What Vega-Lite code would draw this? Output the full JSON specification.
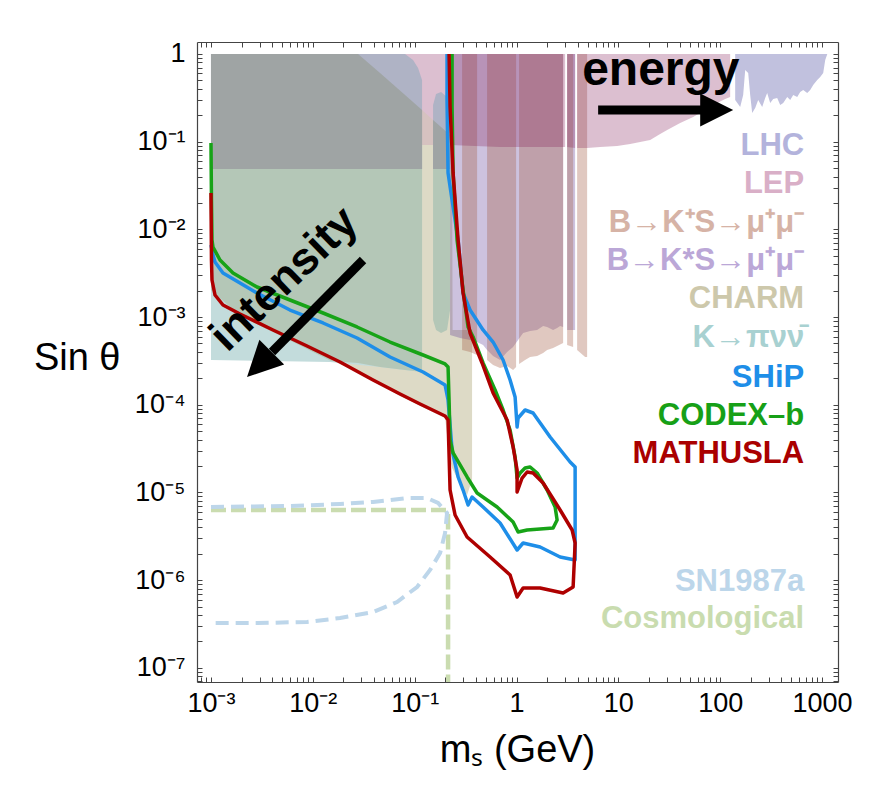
{
"$schema": "https://vega.github.io/schema/vega-lite/v6.json",
"width": 641, "height": 640,
"autosize": {"type": "none"},
"padding": {"left": 197, "top": 42, "right": 42, "bottom": 117},
"background": "white",
"config": {"view": {"stroke": null}},
"datasets": {
"charm": [
{"m":0.001,"s":0.002037,"s2":1},{"m":0.001927,"s":0.001029,"s2":1},{"m":0.004064,"s":0.0006761,"s2":1},{"m":0.0185,"s":0.0002918,"s2":1},{"m":0.0278,"s":0.0002364,"s2":1},{"m":0.07187,"s":0.0001259,"s2":0.3785},{"m":0.1989,"s":0.00007069,"s2":0.1359},{"m":0.2227,"s":0.00002347,"s2":0.1192},{"m":0.233,"s":0.00001902,"s2":0.1131},{"m":0.2357,"s":0.00001852,"s2":0.0007125},{"m":0.2669,"s":0.00001388,"s2":0.0007125},{"m":0.3271,"s":0.000009361,"s2":0.0007125},{"m":0.3662,"s":0.00001388,"s2":0.0007125}],
"teal": [
{"m":0.001,"s":0.0003241,"s2":1},{"m":0.01475,"s":0.0003075,"s2":1},{"m":0.04571,"s":0.0002696,"s2":1},{"m":0.08048,"s":0.0002492,"s2":1},{"m":0.09643,"s":0.0002428,"s2":0.8543},{"m":0.108,"s":0.0002428,"s2":0.6925},{"m":0.1182,"s":0.0002364,"s2":0.5052}],
"lepleft": [{"m":0.08048,"s":0.09169,"s2":1},{"m":0.2227,"s":0.09169,"s2":1}],
"pinkbeige": [{"m":0.1182,"s":0.09169,"s2":0.2298},{"m":0.1516,"s":0.09169,"s2":0.1768}],
"graygreen": [
{"part":"a","m":0.001,"s":0.002037,"s2":1},{"part":"a","m":0.001927,"s":0.001029,"s2":1},{"part":"a","m":0.004064,"s":0.0006761,"s2":1},{"part":"a","m":0.0151,"s":0.0003157,"s2":1},{"part":"a","m":0.0278,"s":0.0002995,"s2":1},{"part":"a","m":0.04571,"s":0.0002696,"s2":0.6071},{"part":"a","m":0.08048,"s":0.0002492,"s2":0.3406},{"part":"a","m":0.1182,"s":0.0002364,"s2":0.2298},
{"part":"b","m":0.1516,"s":0.0009264,"s2":0.1768},{"part":"b","m":0.1622,"s":0.0007125,"s2":0.1633},{"part":"b","m":0.1816,"s":0.0006585,"s2":0.1471},{"part":"b","m":0.208,"s":0.0007125,"s2":0.129},{"part":"b","m":0.2227,"s":0.001204,"s2":0.1192}],
"bluegray": [
{"part":"a","m":0.001,"s":0.0488,"s2":1},{"part":"a","m":0.08048,"s":0.0488,"s2":1},{"part":"a","m":0.09643,"s":0.0488,"s2":0.8543},{"part":"a","m":0.108,"s":0.0488,"s2":0.6925},{"part":"a","m":0.1182,"s":0.0488,"s2":0.5052},
{"part":"b","m":0.1516,"s":0.0488,"s2":0.2621},{"part":"b","m":0.1622,"s":0.0488,"s2":0.3498},{"part":"b","m":0.1816,"s":0.0488,"s2":0.3687},{"part":"b","m":0.208,"s":0.0488,"s2":0.3233},{"part":"b","m":0.2227,"s":0.0488,"s2":0.2621}],
"darkgray": [
{"part":"a","m":0.001,"s":0.0488,"s2":1},{"part":"a","m":0.0278,"s":0.0488,"s2":1},{"part":"a","m":0.04571,"s":0.0488,"s2":0.6071},{"part":"a","m":0.08048,"s":0.0488,"s2":0.3406},{"part":"a","m":0.1182,"s":0.0488,"s2":0.2298},
{"part":"b","m":0.1516,"s":0.0488,"s2":0.1768},{"part":"b","m":0.1816,"s":0.0488,"s2":0.1471},{"part":"b","m":0.2227,"s":0.0488,"s2":0.1192}],
"purple": [
{"part":"a","m":0.2227,"s":0.0006247,"s2":1},{"part":"a","m":0.2793,"s":0.0005772,"s2":1},{"part":"a","m":0.3501,"s":0.0005479,"s2":1},{"part":"a","m":0.4101,"s":0.0005197,"s2":1},{"part":"a","m":0.4696,"s":0.0004804,"s2":1},{"part":"a","m":0.5142,"s":0.0004213,"s2":1},{"part":"a","m":0.5889,"s":0.00036,"s2":1},{"part":"a","m":0.6899,"s":0.0003241,"s2":1},{"part":"a","m":0.8084,"s":0.0003997,"s2":1},{"part":"a","m":0.9258,"s":0.0004558,"s2":1},{"part":"a","m":1.037,"s":0.0005479,"s2":1},{"part":"a","m":1.161,"s":0.0006585,"s2":1},{"part":"a","m":1.36,"s":0.000694,"s2":1},{"part":"a","m":1.594,"s":0.0007125,"s2":1},{"part":"a","m":1.825,"s":0.0007913,"s2":1},{"part":"a","m":1.998,"s":0.0007709,"s2":1},{"part":"a","m":2.288,"s":0.0007125,"s2":1},{"part":"a","m":2.505,"s":0.0007509,"s2":1},{"part":"a","m":2.681,"s":0.0007913,"s2":1},{"part":"a","m":2.869,"s":0.0007709,"s2":1},
{"part":"b","m":3.141,"s":0.0007125,"s2":1},{"part":"b","m":3.764,"s":0.0007125,"s2":1}],
"tan": [
{"part":"a","m":0.2922,"s":0.0004213,"s2":1},{"part":"a","m":0.3501,"s":0.0003997,"s2":1},{"part":"a","m":0.4101,"s":0.0003695,"s2":1},
{"part":"b","m":0.5142,"s":0.0003241,"s2":1},{"part":"b","m":0.5889,"s":0.0002842,"s2":1},{"part":"b","m":0.6899,"s":0.0002627,"s2":1},{"part":"b","m":0.8084,"s":0.0002769,"s2":1},{"part":"b","m":0.9258,"s":0.0002492,"s2":1},{"part":"b","m":0.9908,"s":0.0002696,"s2":1},
{"part":"c","m":1.06,"s":0.0002918,"s2":1},{"part":"c","m":1.214,"s":0.0003241,"s2":1},{"part":"c","m":1.36,"s":0.0003506,"s2":1},{"part":"c","m":1.594,"s":0.00036,"s2":1},{"part":"c","m":1.825,"s":0.0003894,"s2":1},{"part":"c","m":1.998,"s":0.0004213,"s2":1},{"part":"c","m":2.288,"s":0.0004441,"s2":1},{"part":"c","m":2.505,"s":0.000468,"s2":1},{"part":"c","m":2.869,"s":0.0005063,"s2":1},
{"part":"d","m":3.141,"s":0.0004804,"s2":1},{"part":"d","m":3.597,"s":0.0004558,"s2":1},
{"part":"e","m":3.938,"s":0.0004213,"s2":1},{"part":"e","m":4.719,"s":0.0003506,"s2":1},{"part":"e","m":4.937,"s":0.0003506,"s2":1}],
"lep": [
{"part":"a","m":0.2227,"s":0.09169,"s2":1},{"part":"a","m":0.6899,"s":0.087,"s2":1},{"part":"a","m":2.681,"s":0.087,"s2":1},{"part":"a","m":3.002,"s":0.087,"s2":1},
{"part":"b","m":3.141,"s":0.087,"s2":1},{"part":"b","m":3.764,"s":0.08477,"s2":1},
{"part":"c","m":3.938,"s":0.08477,"s2":1},{"part":"c","m":4.937,"s":0.08477,"s2":1},{"part":"c","m":6.624,"s":0.087,"s2":1},{"part":"c","m":9.73,"s":0.08931,"s2":1},{"part":"c","m":13.06,"s":0.09413,"s2":1},{"part":"c","m":16.37,"s":0.0992,"s2":1},{"part":"c","m":20.53,"s":0.1045,"s2":1},{"part":"c","m":25.73,"s":0.1224,"s2":1},{"part":"c","m":30.16,"s":0.1359,"s2":1},{"part":"c","m":40.46,"s":0.1633,"s2":1},{"part":"c","m":54.28,"s":0.1912,"s2":1},{"part":"c","m":71.22,"s":0.2298,"s2":1},{"part":"c","m":93.41,"s":0.2763,"s2":1},{"part":"c","m":111.9,"s":0.3068,"s2":1},{"part":"c","m":125.3,"s":0.3233,"s2":1}],
"lhc": [
{"m":140.4,"s":0.2988,"s2":1},{"m":157.2,"s":0.2487,"s2":1},{"m":168.2,"s":0.3406,"s2":1},{"m":176,"s":0.6572,"s2":1},{"m":188.4,"s":0.6071,"s2":1},{"m":197.1,"s":0.3406,"s2":1},{"m":206.2,"s":0.2125,"s2":1},{"m":220.7,"s":0.2423,"s2":1},{"m":236.1,"s":0.2988,"s2":1},{"m":258.5,"s":0.2487,"s2":1},{"m":276.6,"s":0.3149,"s2":1},{"m":289.4,"s":0.3591,"s2":1},{"m":309.8,"s":0.2763,"s2":1},{"m":331.5,"s":0.3068,"s2":1},{"m":362.9,"s":0.3149,"s2":1},{"m":388.6,"s":0.2621,"s2":1},{"m":415.8,"s":0.2763,"s2":1},{"m":455,"s":0.3233,"s2":1},{"m":487,"s":0.2988,"s2":1},{"m":521.2,"s":0.3406,"s2":1},{"m":570.6,"s":0.3233,"s2":1},{"m":610.6,"s":0.3687,"s2":1},{"m":653.5,"s":0.3886,"s2":1},{"m":715.3,"s":0.3591,"s2":1},{"m":765.6,"s":0.3886,"s2":1},{"m":819.2,"s":0.443,"s2":1},{"m":896.9,"s":0.5052,"s2":1},{"m":959.8,"s":0.5466,"s2":1},{"m":1027,"s":0.6071,"s2":1},{"m":1075,"s":0.8543,"s2":1},{"m":1125,"s":0.99,"s2":1}],
"blue": [
{"i":1,"m":0.001,"s":0.006637},{"i":2,"m":0.001046,"s":0.005105},{"i":3,"m":0.001095,"s":0.004248},{"i":4,"m":0.001312,"s":0.003181},{"i":5,"m":0.001927,"s":0.002447},{"i":6,"m":0.00283,"s":0.001882},{"i":7,"m":0.00597,"s":0.001204},{"i":8,"m":0.0126,"s":0.0008562},{"i":9,"m":0.02718,"s":0.0005772},{"i":10,"m":0.05732,"s":0.0003506},{"i":11,"m":0.1209,"s":0.0002364},{"i":12,"m":0.1989,"s":0.0001681},{"i":13,"m":0.2128,"s":0.0001134},{"i":14,"m":0.233,"s":0.0000305},{"i":15,"m":0.2669,"s":0.00001502},{"i":16,"m":0.2988,"s":0.00001067},{"i":17,"m":0.3346,"s":0.000007196},{"i":18,"m":0.3662,"s":0.000008882},{"i":19,"m":0.4696,"s":0.000006829},{"i":20,"m":0.6899,"s":0.000004487},{"i":21,"m":1.0135,"s":0.000002208},{"i":22,"m":1.161,"s":0.000002653},{"i":23,"m":1.705,"s":0.000002389},{"i":24,"m":2.681,"s":0.000001838},{"i":25,"m":3.764,"s":0.000001699},{"i":26,"m":3.764,"s":0.00001953},{"i":27,"m":3.361,"s":0.00002226},{"i":28,"m":2.138,"s":0.00004292},{"i":29,"m":1.455,"s":0.00008058},{"i":30,"m":1.214,"s":0.0000872},{"i":31,"m":1.037,"s":0.00007069},{"i":32,"m":1.0135,"s":0.00005579},{"i":33,"m":0.9687,"s":0.0001227},{"i":34,"m":0.8652,"s":0.0001917},{"i":35,"m":0.7385,"s":0.0003241},{"i":36,"m":0.5889,"s":0.0005197},{"i":37,"m":0.4696,"s":0.0007125},{"i":38,"m":0.3501,"s":0.001204},{"i":39,"m":0.2988,"s":0.001882},{"i":40,"m":0.2669,"s":0.007569},{"i":41,"m":0.233,"s":0.02163},{"i":42,"m":0.2128,"s":0.04395},{"i":43,"m":0.208,"s":0.2988},{"i":44,"m":0.208,"s":1}],
"green": [
{"i":1,"m":0.001,"s":0.09663},{"i":2,"m":0.001011,"s":0.02163},{"i":3,"m":0.001023,"s":0.007569},{"i":4,"m":0.001046,"s":0.006297},{"i":5,"m":0.001226,"s":0.004477},{"i":6,"m":0.001645,"s":0.003181},{"i":7,"m":0.00283,"s":0.002203},{"i":8,"m":0.00597,"s":0.001566},{"i":9,"m":0.0126,"s":0.001113},{"i":10,"m":0.02718,"s":0.0007709},{"i":11,"m":0.05732,"s":0.0005197},{"i":12,"m":0.1209,"s":0.0003695},{"i":13,"m":0.1989,"s":0.0002918},{"i":14,"m":0.2128,"s":0.0002696},{"i":15,"m":0.2177,"s":0.0001134},{"i":16,"m":0.2227,"s":0.00003967},{"i":17,"m":0.2384,"s":0.0000282},{"i":18,"m":0.3271,"s":0.00001502},{"i":19,"m":0.4101,"s":0.000009865},{"i":20,"m":0.6447,"s":0.000006829},{"i":21,"m":0.9258,"s":0.000004606},{"i":22,"m":1.037,"s":0.000003543},{"i":23,"m":1.271,"s":0.000003734},{"i":24,"m":2.288,"s":0.000003936},{"i":25,"m":2.505,"s":0.000004856},{"i":26,"m":2.394,"s":0.000006829},{"i":27,"m":1.998,"s":0.00001067},{"i":28,"m":1.594,"s":0.00001668},{"i":29,"m":1.36,"s":0.00001953},{"i":30,"m":1.214,"s":0.00001902},{"i":31,"m":1.085,"s":0.00001668},{"i":32,"m":1.0135,"s":0.00001462},{"i":33,"m":0.9687,"s":0.00002538},{"i":34,"m":0.8652,"s":0.00005158},{"i":35,"m":0.7385,"s":0.0000872},{"i":36,"m":0.6163,"s":0.0001474},{"i":37,"m":0.4696,"s":0.0002995},{"i":38,"m":0.3747,"s":0.0005929},{"i":39,"m":0.3346,"s":0.0007709},{"i":40,"m":0.2988,"s":0.002037},{"i":41,"m":0.261,"s":0.007569},{"i":42,"m":0.2384,"s":0.04395},{"i":43,"m":0.233,"s":0.2487},{"i":44,"m":0.233,"s":1}],
"red": [
{"i":1,"m":0.001,"s":0.026},{"i":2,"m":0.001011,"s":0.004477},{"i":3,"m":0.001023,"s":0.002648},{"i":4,"m":0.001095,"s":0.001786},{"i":5,"m":0.001312,"s":0.001373},{"i":6,"m":0.001927,"s":0.001084},{"i":7,"m":0.004064,"s":0.0007125},{"i":8,"m":0.00877,"s":0.000468},{"i":9,"m":0.0185,"s":0.0003075},{"i":10,"m":0.03903,"s":0.0001917},{"i":11,"m":0.07187,"s":0.0001327},{"i":12,"m":0.113,"s":0.0001021},{"i":13,"m":0.1989,"s":0.0000745},{"i":14,"m":0.2128,"s":0.00006707},{"i":15,"m":0.2227,"s":0.00001067},{"i":16,"m":0.2493,"s":0.000005535},{"i":17,"m":0.3271,"s":0.000003108},{"i":18,"m":0.5502,"s":0.000001838},{"i":19,"m":0.8652,"s":0.000001146},{"i":20,"m":1.0135,"s":0.0000006428},{"i":21,"m":1.161,"s":0.0000008144},{"i":22,"m":1.705,"s":0.0000008144},{"i":23,"m":2.869,"s":0.0000007144},{"i":24,"m":3.597,"s":0.0000008362},{"i":25,"m":3.764,"s":0.000002653},{"i":26,"m":3.517,"s":0.000003734},{"i":27,"m":2.681,"s":0.000006313},{"i":28,"m":1.825,"s":0.00001283},{"i":29,"m":1.455,"s":0.00001668},{"i":30,"m":1.271,"s":0.00001712},{"i":31,"m":1.135,"s":0.00001462},{"i":32,"m":1.0135,"s":0.00001013},{"i":33,"m":1.0135,"s":0.00001804},{"i":34,"m":0.9258,"s":0.00003301},{"i":35,"m":0.8084,"s":0.00006707},{"i":36,"m":0.5889,"s":0.0001362},{"i":37,"m":0.4592,"s":0.0002995},{"i":38,"m":0.3501,"s":0.0006585},{"i":39,"m":0.2988,"s":0.001882},{"i":40,"m":0.2669,"s":0.007569},{"i":41,"m":0.2384,"s":0.04395},{"i":42,"m":0.2227,"s":0.2487},{"i":43,"m":0.2177,"s":1}],
"sn": [
{"i":1,"m":0.001,"s":0.000006829},{"i":2,"m":0.00597,"s":0.00000701},{"i":3,"m":0.0185,"s":0.00000739},{"i":4,"m":0.03903,"s":0.00000779},{"i":5,"m":0.08418,"s":0.000008651},{"i":6,"m":0.1323,"s":0.000008651},{"i":7,"m":0.1698,"s":0.000007589},{"i":8,"m":0.208,"s":0.000005834},{"i":9,"m":0.1989,"s":0.000003451},{"i":10,"m":0.1777,"s":0.000002041},{"i":11,"m":0.1416,"s":0.000001306},{"i":12,"m":0.1056,"s":0.0000008362},{"i":13,"m":0.06716,"s":0.0000005638},{"i":14,"m":0.03903,"s":0.0000004336},{"i":15,"m":0.0185,"s":0.0000003704},{"i":16,"m":0.00877,"s":0.0000003334},{"i":17,"m":0.00283,"s":0.0000003248},{"i":18,"m":0.001,"s":0.0000003248}],
"cosmo": [
{"i":1,"m":0.001,"s":0.000006313},{"i":2,"m":0.2034,"s":0.000006313},{"i":3,"m":0.2128,"s":0.000005535},{"i":4,"m":0.2128,"s":5e-8}],
"labels": [
{"label":"LHC","m":668,"s":0.0705},{"label":"LEP","m":668,"s":0.026},{"label":"B→K⁺S→μ⁺μ⁻","m":668,"s":0.009339},{"label":"B→K*S→μ⁺μ⁻","m":668,"s":0.003443},{"label":"CHARM","m":668,"s":0.00127},{"label":"K→πνν̄","m":668,"s":0.0004558},{"label":"SHiP","m":668,"s":0.0001595},{"label":"CODEX–b","m":668,"s":0.00005883},{"label":"MATHUSLA","m":668,"s":0.00002169},{"label":"SN1987a","m":668,"s":0.0000007527},{"label":"Cosmological","m":668,"s":0.0000002849}]
},
"layer": [
{
"encoding": {
"x": {"field": "m", "type": "quantitative",
 "scale": {"type": "log", "domain": [0.000729, 1435], "nice": false},
 "axis": {"orient": "bottom", "zindex": 1,
  "values": [0.0008,0.0009,0.001,0.002,0.003,0.004,0.005,0.006,0.007,0.008,0.009,0.01,0.02,0.03,0.04,0.05,0.06,0.07,0.08,0.09,0.1,0.2,0.3,0.4,0.5,0.6,0.7,0.8,0.9,1,2,3,4,5,6,7,8,9,10,20,30,40,50,60,70,80,90,100,200,300,400,500,600,700,800,900,1000],
  "labelExpr": "abs(log(datum.value)/LN10-round(log(datum.value)/LN10))>0.01?'':round(log(datum.value)/LN10)==-3?'10⁻³':round(log(datum.value)/LN10)==-2?'10⁻²':round(log(datum.value)/LN10)==-1?'10⁻¹':round(log(datum.value)/LN10)==0?'1':round(log(datum.value)/LN10)==1?'10':round(log(datum.value)/LN10)==2?'100':round(log(datum.value)/LN10)==3?'1000':''",
  "ticks": true, "tickSize": -5, "tickColor": "#444", "tickWidth": 1,
  "domain": true, "domainColor": "#444", "domainWidth": 1.2, "grid": false,
  "labelFont": "Liberation Sans", "labelFontSize": 27, "labelColor": "#000", "labelPadding": 13,
  "labelOverlap": false, "labelFlush": false, "labelBound": false,
  "title": "mₛ (GeV)", "titleFont": "Liberation Sans", "titleFontSize": 38, "titleFontWeight": "normal", "titleColor": "#000",
  "titleX": 320, "titleY": 68, "titleAlign": "center", "titleBaseline": "middle",
  "encode": {"ticks": {"update": {"y2": {"signal": "abs(log(datum.value)/LN10-round(log(datum.value)/LN10))<0.01?-10:-5"}}}}
 }},
"y": {"field": "s", "type": "quantitative",
 "scale": {"type": "log", "domain": [6.9e-8, 1.37], "nice": false},
 "axis": {"orient": "left", "zindex": 1,
  "values": [7e-8,8e-8,9e-8,1e-7,2e-7,3e-7,4e-7,5e-7,6e-7,7e-7,8e-7,9e-7,1e-6,2e-6,3e-6,4e-6,5e-6,6e-6,7e-6,8e-6,9e-6,1e-5,2e-5,3e-5,4e-5,5e-5,6e-5,7e-5,8e-5,9e-5,0.0001,0.0002,0.0003,0.0004,0.0005,0.0006,0.0007,0.0008,0.0009,0.001,0.002,0.003,0.004,0.005,0.006,0.007,0.008,0.009,0.01,0.02,0.03,0.04,0.05,0.06,0.07,0.08,0.09,0.1,0.2,0.3,0.4,0.5,0.6,0.7,0.8,0.9,1],
  "labelExpr": "abs(log(datum.value)/LN10-round(log(datum.value)/LN10))>0.01?'':round(log(datum.value)/LN10)==0?'1':round(log(datum.value)/LN10)==-1?'10⁻¹':round(log(datum.value)/LN10)==-2?'10⁻²':round(log(datum.value)/LN10)==-3?'10⁻³':round(log(datum.value)/LN10)==-4?'10⁻⁴':round(log(datum.value)/LN10)==-5?'10⁻⁵':round(log(datum.value)/LN10)==-6?'10⁻⁶':round(log(datum.value)/LN10)==-7?'10⁻⁷':''",
  "ticks": true, "tickSize": -5, "tickColor": "#444", "tickWidth": 1,
  "domain": true, "domainColor": "#444", "domainWidth": 1.2, "grid": false,
  "labelFont": "Liberation Sans", "labelFontSize": 27, "labelColor": "#000", "labelPadding": 17,
  "labelOverlap": false, "labelFlush": false, "labelBound": false,
  "title": "Sin θ", "titleFont": "Liberation Sans", "titleFontSize": 38, "titleFontWeight": "normal", "titleColor": "#000",
  "titleAngle": 0, "titleX": -77, "titleY": 316, "titleAlign": "right", "titleBaseline": "middle",
  "encode": {"ticks": {"update": {"x2": {"signal": "abs(log(datum.value)/LN10-round(log(datum.value)/LN10))<0.01?10:5"}}}}
 }}
},
"layer": [
{"data": {"name": "charm"}, "mark": {"type": "area", "color": "#dddac6", "clip": true}, "encoding": {"y2": {"field": "s2"}}},
{"data": {"name": "teal"}, "mark": {"type": "area", "color": "#c3dcdc", "clip": true}, "encoding": {"y2": {"field": "s2"}}},
{"data": {"name": "lepleft"}, "mark": {"type": "area", "color": "#dcbfd0", "clip": true}, "encoding": {"y2": {"field": "s2"}}},
{"data": {"name": "pinkbeige"}, "mark": {"type": "area", "color": "#d6c2c0", "clip": true}, "encoding": {"y2": {"field": "s2"}}},
{"data": {"name": "graygreen"}, "mark": {"type": "area", "color": "#b4c7b7", "clip": true}, "encoding": {"y2": {"field": "s2"}, "detail": {"field": "part"}}},
{"data": {"name": "bluegray"}, "mark": {"type": "area", "color": "#afb3c5", "clip": true}, "encoding": {"y2": {"field": "s2"}, "detail": {"field": "part"}}},
{"data": {"name": "darkgray"}, "mark": {"type": "area", "color": "#9fa4a4", "clip": true}, "encoding": {"y2": {"field": "s2"}, "detail": {"field": "part"}}},
{"data": {"name": "purple"}, "mark": {"type": "area", "color": "#583491", "opacity": 0.3, "clip": true}, "encoding": {"y2": {"field": "s2"}, "detail": {"field": "part"}}},
{"data": {"name": "tan"}, "mark": {"type": "area", "color": "#a45d46", "opacity": 0.34, "clip": true}, "encoding": {"y2": {"field": "s2"}, "detail": {"field": "part"}}},
{"data": {"name": "lep"}, "mark": {"type": "area", "color": "#821a57", "opacity": 0.28, "clip": true}, "encoding": {"y2": {"field": "s2"}, "detail": {"field": "part"}}},
{"data": {"name": "lhc"}, "mark": {"type": "area", "color": "#c1c1de", "clip": true}, "encoding": {"y2": {"field": "s2"}}},
{"data": {"name": "cosmo"}, "mark": {"type": "line", "color": "#cadcb0", "strokeWidth": 4.5, "strokeDash": [15, 5], "clip": true}, "encoding": {"order": {"field": "i", "type": "quantitative"}}},
{"data": {"name": "sn"}, "mark": {"type": "line", "color": "#bdd6ea", "strokeWidth": 4, "strokeDash": [13, 7], "clip": true}, "encoding": {"order": {"field": "i", "type": "quantitative"}}},
{"data": {"name": "blue"}, "mark": {"type": "line", "color": "#1e8ee8", "strokeWidth": 3.5, "strokeJoin": "round", "clip": true}, "encoding": {"order": {"field": "i", "type": "quantitative"}}},
{"data": {"name": "green"}, "mark": {"type": "line", "color": "#17a317", "strokeWidth": 3.5, "strokeJoin": "round", "clip": true}, "encoding": {"order": {"field": "i", "type": "quantitative"}}},
{"data": {"name": "red"}, "mark": {"type": "line", "color": "#ae0000", "strokeWidth": 3.5, "strokeJoin": "round", "clip": true}, "encoding": {"order": {"field": "i", "type": "quantitative"}}},
{"data": {"name": "labels"}, "mark": {"type": "text", "align": "right", "baseline": "alphabetic", "font": "Liberation Sans", "fontWeight": "bold", "fontSize": 31},
 "encoding": {"text": {"field": "label"},
  "color": {"field": "label", "type": "nominal", "legend": null,
   "scale": {"domain": ["LHC","LEP","B→K⁺S→μ⁺μ⁻","B→K*S→μ⁺μ⁻","CHARM","K→πνν̄","SHiP","CODEX–b","MATHUSLA","SN1987a","Cosmological"],
    "range": ["#b3b3dc","#d9afc7","#d6b3a6","#bba7d7","#cdc8ab","#a8d1d1","#1e8ee8","#17a017","#aa0000","#bcd6ea","#c9dcaf"]}}}},
{"data": {"values": [{"m": 6.332, "s": 0.2298, "m2": 68.06, "s2": 0.2298}, {"m": 0.03112, "s": 0.004477, "m2": 0.003974, "s2": 0.0003997}]},
 "mark": {"type": "rule", "color": "black", "strokeWidth": 9, "strokeCap": "butt"},
 "encoding": {"x2": {"field": "m2"}, "y2": {"field": "s2"}}},
{"data": {"values": [{"m": 92.36, "s": 0.2298}]},
 "mark": {"type": "point", "shape": "M-1,-1L1,0L-1,1Z", "filled": true, "color": "black", "opacity": 1, "size": 1089, "strokeWidth": 0}},
{"data": {"values": [{"m": 0.002988, "s": 0.0002872}]},
 "mark": {"type": "point", "shape": "M-1,-1L1,0L-1,1Z", "filled": true, "color": "black", "opacity": 1, "size": 1225, "angle": 135, "strokeWidth": 0}},
{"data": {"values": [{"m": 4.41, "s": 0.443, "t": "energy"}]},
 "mark": {"type": "text", "align": "left", "baseline": "alphabetic", "font": "Liberation Sans", "fontWeight": "bold", "fontSize": 48, "color": "black"},
 "encoding": {"text": {"field": "t"}}},
{"data": {"values": [{"m": 0.005213, "s": 0.002718, "t": "intensity"}]},
 "mark": {"type": "text", "align": "center", "baseline": "middle", "font": "Liberation Sans", "fontWeight": "bold", "fontSize": 45, "color": "black", "angle": 316},
 "encoding": {"text": {"field": "t"}}}
]
},
{
"data": {"values": [{"m": 1, "s": 0.001}]},
"mark": {"type": "point", "opacity": 0},
"encoding": {
"x": {"field": "m", "type": "quantitative",
 "scale": {"type": "log", "domain": [0.000729, 1435], "nice": false},
 "axis": {"orient": "top", "labels": false, "title": null, "zindex": 1,
  "values": [0.0008,0.0009,0.001,0.002,0.003,0.004,0.005,0.006,0.007,0.008,0.009,0.01,0.02,0.03,0.04,0.05,0.06,0.07,0.08,0.09,0.1,0.2,0.3,0.4,0.5,0.6,0.7,0.8,0.9,1,2,3,4,5,6,7,8,9,10,20,30,40,50,60,70,80,90,100,200,300,400,500,600,700,800,900,1000],
  "ticks": true, "tickSize": -5, "tickColor": "#444", "tickWidth": 1, "domain": true, "domainColor": "#444", "domainWidth": 1.2, "grid": false,
  "encode": {"ticks": {"update": {"y2": {"signal": "abs(log(datum.value)/LN10-round(log(datum.value)/LN10))<0.01?10:5"}}}}
 }},
"y": {"field": "s", "type": "quantitative",
 "scale": {"type": "log", "domain": [6.9e-8, 1.37], "nice": false},
 "axis": {"orient": "right", "labels": false, "title": null, "zindex": 1,
  "values": [7e-8,8e-8,9e-8,1e-7,2e-7,3e-7,4e-7,5e-7,6e-7,7e-7,8e-7,9e-7,1e-6,2e-6,3e-6,4e-6,5e-6,6e-6,7e-6,8e-6,9e-6,1e-5,2e-5,3e-5,4e-5,5e-5,6e-5,7e-5,8e-5,9e-5,0.0001,0.0002,0.0003,0.0004,0.0005,0.0006,0.0007,0.0008,0.0009,0.001,0.002,0.003,0.004,0.005,0.006,0.007,0.008,0.009,0.01,0.02,0.03,0.04,0.05,0.06,0.07,0.08,0.09,0.1,0.2,0.3,0.4,0.5,0.6,0.7,0.8,0.9,1],
  "ticks": true, "tickSize": -5, "tickColor": "#444", "tickWidth": 1, "domain": true, "domainColor": "#444", "domainWidth": 1.2, "grid": false,
  "encode": {"ticks": {"update": {"x2": {"signal": "abs(log(datum.value)/LN10-round(log(datum.value)/LN10))<0.01?-10:-5"}}}}
 }}
}
}
],
"resolve": {"scale": {"x": "independent", "y": "independent"}}
}
